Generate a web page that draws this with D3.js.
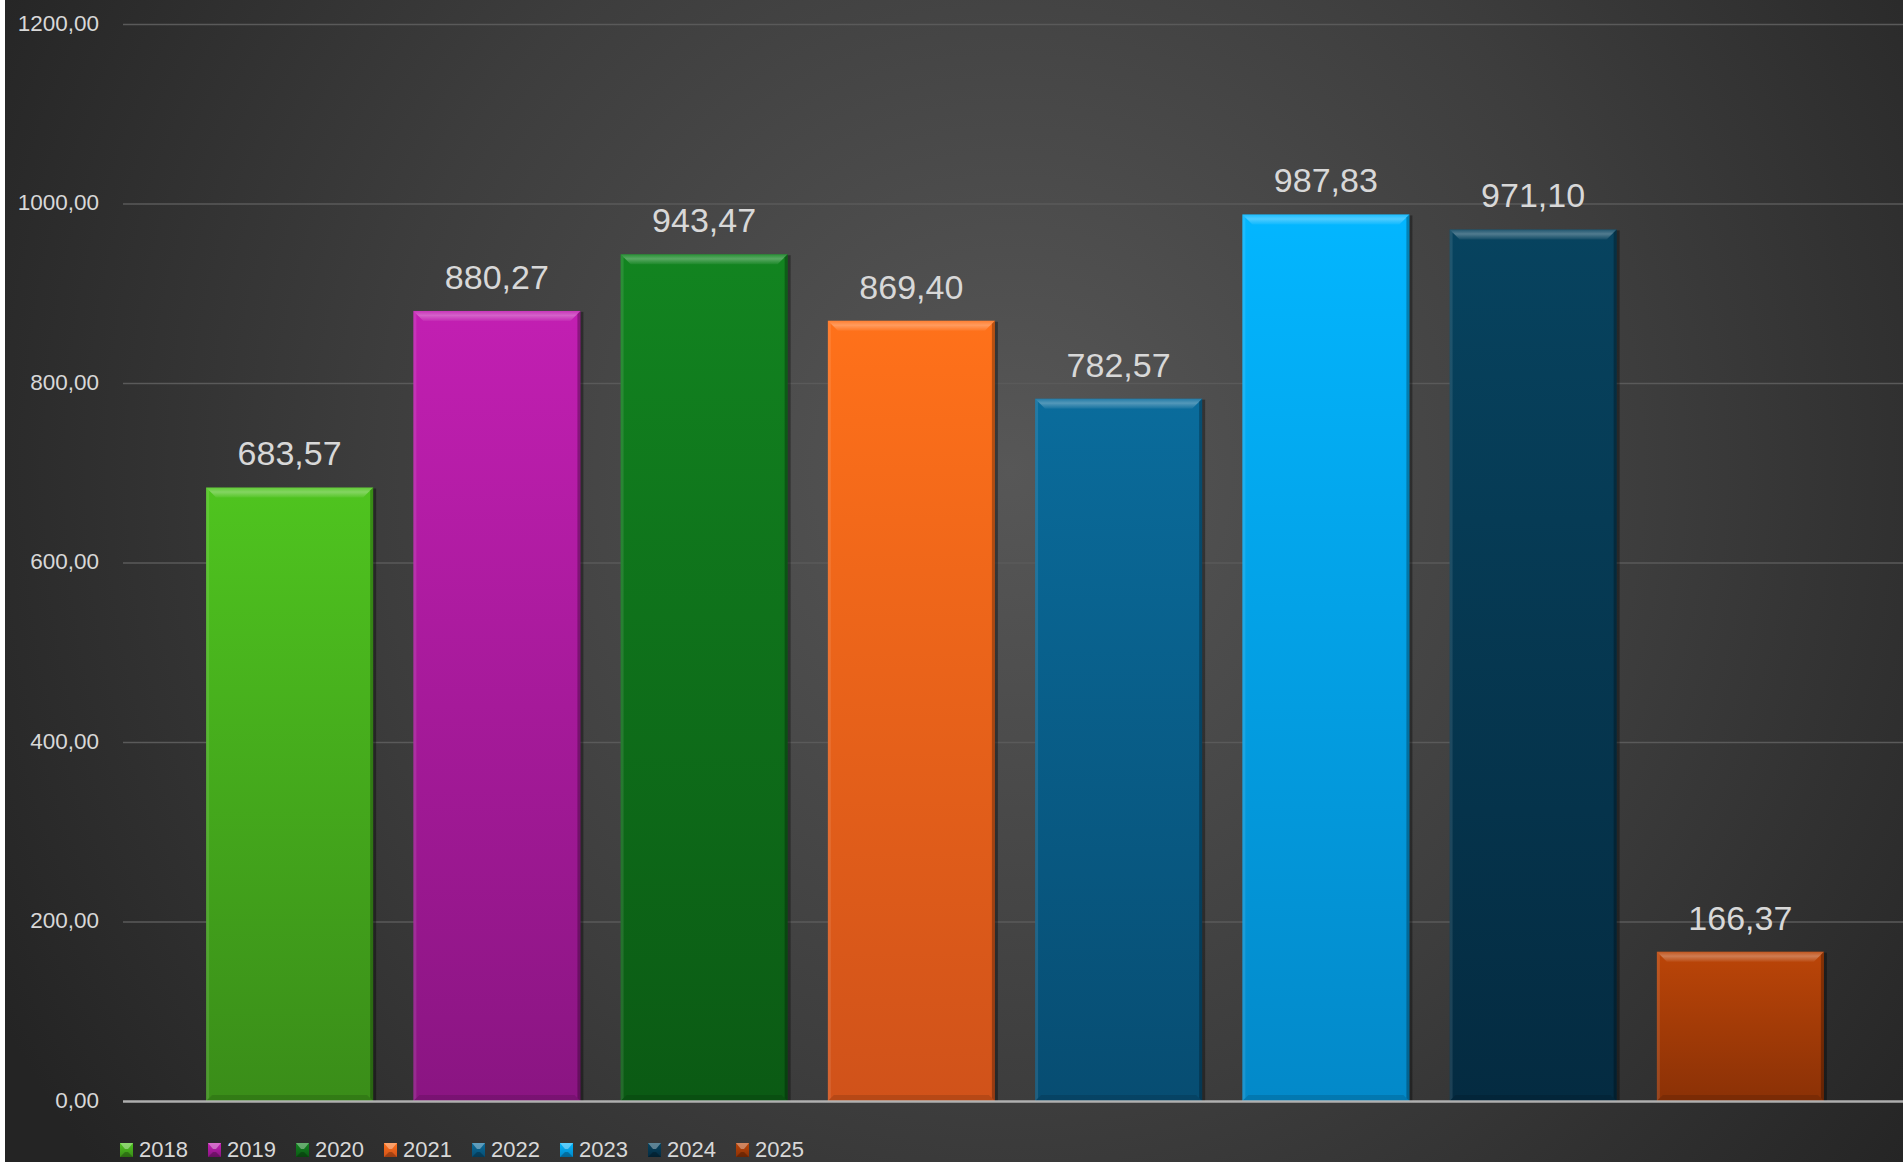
<!DOCTYPE html>
<html>
<head>
<meta charset="utf-8">
<script src="https://cdn.jsdelivr.net/npm/d3@7"></script>
<style>
  html, body { margin: 0; padding: 0; background: #fff; overflow: hidden; }
  svg { display: block; }
  text { font-family: "Liberation Sans", Arial, sans-serif; fill: #d8d8d8; }
</style>
</head>
<body>
<svg id="vis" width="1903" height="1162"></svg>
<script>
const years = ["2018", "2019", "2020", "2021", "2022", "2023", "2024", "2025"];
const values = [683.57, 880.27, 943.47, 869.40, 782.57, 987.83, 971.10, 166.37];
const yTicks = [0, 200, 400, 600, 800, 1000, 1200];

// top / bottom colour of each bar's gradient
const topColors = ["#4fc41f", "#c21fb2", "#128420", "#ff711a", "#0a6c9c", "#03b6ff", "#07435f", "#bb4508"];
const bottomColors = ["#3a8d19", "#8a1582", "#0b5a14", "#d0521a", "#074d72", "#0389c9", "#042b41", "#8b3106"];

const W = 1903, H = 1162;
const margin = {left: 123, right: 0, top: 24, bottom: 61};

const locale = d3.formatLocale({decimal: ",", thousands: ".", grouping: [3], currency: ["", ""]});
const fmt = locale.format(".2f");

const svg = d3.select("#vis");
const defs = svg.append("defs");

// background
const bg = defs.append("radialGradient")
    .attr("id", "bg")
    .attr("gradientUnits", "userSpaceOnUse")
    .attr("cx", 1010).attr("cy", 470).attr("r", 1150);
bg.append("stop").attr("offset", 0).attr("stop-color", "#575757");
bg.append("stop").attr("offset", 0.55).attr("stop-color", "#3d3d3d");
bg.append("stop").attr("offset", 1).attr("stop-color", "#242424");

svg.append("rect").attr("width", W).attr("height", H).attr("fill", "#ffffff");
svg.append("rect").attr("x", 5).attr("width", W - 5).attr("height", H).attr("fill", "url(#bg)");

const y = d3.scaleLinear().domain([0, 1200]).range([H - margin.bottom, margin.top]);
const x = d3.scaleBand().domain(years).range([186, 1844]).paddingInner(0.194).paddingOuter(0.097);

// gridlines + y labels
const yAxis = svg.append("g")
    .attr("transform", `translate(${margin.left},0)`)
    .call(d3.axisLeft(y).tickValues(yTicks).tickFormat(fmt).tickSize(-(W - margin.left)).tickPadding(24))
    .call(g => g.select(".domain").remove());
yAxis.selectAll(".tick line").attr("stroke", "#5a5a5a").attr("stroke-width", 1.5)
    .attr("stroke-opacity", d => d === 0 ? 0 : 1);
yAxis.selectAll(".tick text")
    .attr("font-size", 22.5)
    .attr("fill", "#d8d8d8")
    .attr("dy", "0.28em")
    .style("font-family", "'Liberation Sans', Arial, sans-serif");

// bar gradients
years.forEach((yr, i) => {
    const g = defs.append("linearGradient").attr("id", "bar" + i)
        .attr("x1", 0).attr("y1", 0).attr("x2", 0).attr("y2", 1);
    g.append("stop").attr("offset", 0).attr("stop-color", topColors[i]);
    g.append("stop").attr("offset", 1).attr("stop-color", bottomColors[i]);
});
const bevelGrad = defs.append("linearGradient").attr("id", "bevel")
    .attr("x1", 0).attr("y1", 0).attr("x2", 0).attr("y2", 1);
bevelGrad.append("stop").attr("offset", 0).attr("stop-color", "#fff").attr("stop-opacity", 0.1);
bevelGrad.append("stop").attr("offset", 0.45).attr("stop-color", "#fff").attr("stop-opacity", 0.3);
bevelGrad.append("stop").attr("offset", 1).attr("stop-color", "#fff").attr("stop-opacity", 0.05);

const bevel = 10;
const bars = svg.append("g").selectAll("g")
    .data(values)
    .join("g")
    .attr("transform", (d, i) => `translate(${x(years[i])},${y(d)})`);

const bw = x.bandwidth();
const bh = d => y(0) - y(d);

// shadow
bars.append("rect")
    .attr("x", 1).attr("y", 1)
    .attr("width", bw + 2).attr("height", d => bh(d) - 1)
    .attr("fill", "#000").attr("opacity", 0.35);

bars.append("rect")
    .attr("width", bw).attr("height", bh)
    .attr("fill", (d, i) => `url(#bar${i})`);

// top bevel
bars.append("path")
    .attr("d", `M0,0H${bw}L${bw - bevel},${bevel}H${bevel}Z`)
    .attr("fill", "url(#bevel)");
// side bevels
bars.append("path")
    .attr("d", d => `M0,0L3,3V${bh(d) - 3}L0,${bh(d)}Z`)
    .attr("fill", "#fff").attr("opacity", 0.1);
bars.append("path")
    .attr("d", d => `M${bw},0L${bw - 3},3V${bh(d) - 3}L${bw},${bh(d)}Z`)
    .attr("fill", "#000").attr("opacity", 0.28);
// bottom bevel
bars.append("path")
    .attr("d", d => `M0,${bh(d)}L6,${bh(d) - 6}H${bw - 6}L${bw},${bh(d)}Z`)
    .attr("fill", "#000").attr("opacity", 0.12);

// value labels
bars.append("text")
    .attr("x", bw / 2).attr("y", -22)
    .attr("text-anchor", "middle")
    .attr("font-size", 34)
    .attr("fill", "#dcdcdc")
    .text(d => fmt(d));

// baseline
svg.append("line")
    .attr("x1", margin.left).attr("x2", W)
    .attr("y1", y(0) + 0.5).attr("y2", y(0) + 0.5)
    .attr("stroke", "#bdbdbd").attr("stroke-width", 2.5).attr("opacity", 0.9);

// legend
const legend = svg.append("g").selectAll("g")
    .data(years)
    .join("g")
    .attr("transform", (d, i) => `translate(${120 + i * 88},1143)`);
legend.append("rect")
    .attr("width", 13).attr("height", 14)
    .attr("fill", (d, i) => `url(#bar${i})`);
legend.append("path")
    .attr("d", "M0,0H13L8,6H5Z")
    .attr("fill", "#fff").attr("opacity", 0.35);
legend.append("path")
    .attr("d", "M0,14H13L8,9H5Z")
    .attr("fill", "#000").attr("opacity", 0.25);
legend.append("text")
    .attr("x", 19).attr("y", 14)
    .attr("font-size", 22)
    .attr("fill", "#d8d8d8")
    .text(d => d);
</script>
</body>
</html>
